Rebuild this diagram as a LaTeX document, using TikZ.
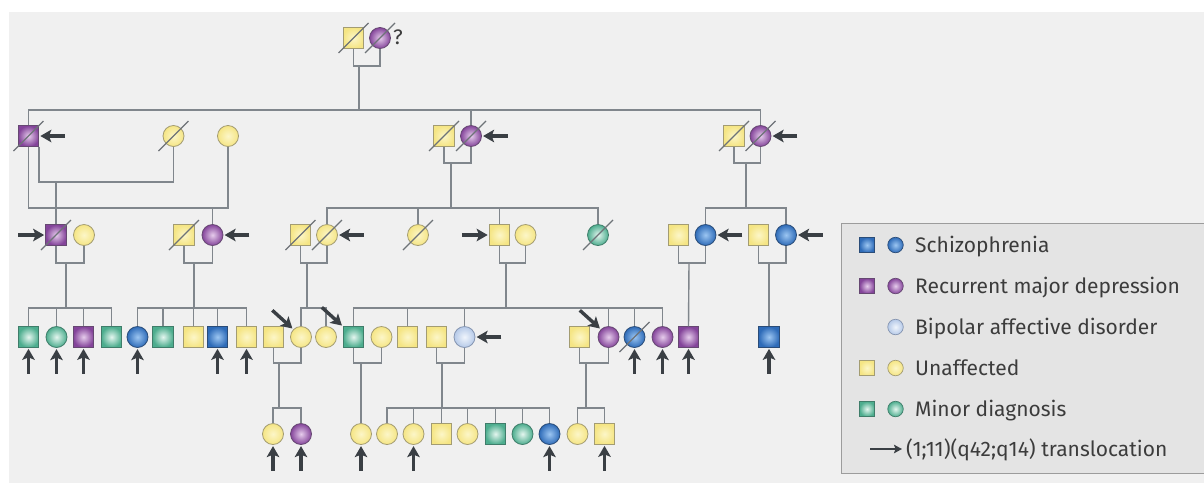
\documentclass[tikz,border=0pt]{standalone}
\usepackage{fontspec}
\setmainfont{Fira Sans}
\usetikzlibrary{arrows.meta}
\definecolor{bgc}{HTML}{F0F0F0}
\definecolor{legc}{HTML}{E4E4E4}
\definecolor{legd}{HTML}{9C9C9C}
\definecolor{linec}{HTML}{80868C}
\definecolor{arrc}{HTML}{3A3F44}
\definecolor{slashc}{HTML}{6E7378}
\definecolor{txtc}{HTML}{3C3C3C}
\definecolor{yelin}{HTML}{FCF6C8}
\definecolor{yelout}{HTML}{F5E584}
\definecolor{yeld}{HTML}{A39C72}
\definecolor{purin}{HTML}{E6CCEC}
\definecolor{purout}{HTML}{84449A}
\definecolor{purd}{HTML}{664872}
\definecolor{bluin}{HTML}{9CC6F2}
\definecolor{bluout}{HTML}{2E6BB8}
\definecolor{blud}{HTML}{2A4C78}
\definecolor{grnin}{HTML}{E4F6EF}
\definecolor{grnout}{HTML}{4DAD8E}
\definecolor{grnd}{HTML}{3F7D6A}
\definecolor{lblin}{HTML}{F0F5FC}
\definecolor{lblout}{HTML}{B5C9E8}
\definecolor{lbld}{HTML}{8494B0}
\begin{document}
\begin{tikzpicture}[x=1pt,y=-1pt,
  sq/.style={rectangle,minimum size=20.5pt,inner sep=0pt,line width=0.8pt},
  ci/.style={circle,minimum size=21pt,inner sep=0pt,line width=0.8pt},
  lsq/.style={rectangle,minimum size=15pt,inner sep=0pt,line width=0.7pt},
  lci/.style={circle,minimum size=15.5pt,inner sep=0pt,line width=0.7pt},
  yel/.style={inner color=yelin,outer color=yelout,draw=yeld},
  pur/.style={inner color=purin,outer color=purout,draw=purd},
  blu/.style={inner color=bluin,outer color=bluout,draw=blud},
  grn/.style={inner color=grnin,outer color=grnout,draw=grnd},
  lbl/.style={inner color=lblin,outer color=lblout,draw=lbld},
  ln/.style={draw=linec,line width=1.4pt},
  arr/.style={draw=arrc,line width=3.4pt,-{Stealth[length=11pt,width=12.5pt,inset=2.5pt]},shorten >=1.2pt},
  slash/.style={draw=slashc,line width=1.1pt},
  legtxt/.style={anchor=base west,inner sep=0pt,text=txtc,font=\fontsize{21}{25}\selectfont}
]
\useasboundingbox (0,0) rectangle (1204,483);
\fill[white] (0,0) rectangle (1204,483);
\fill[bgc] (9,12) rectangle (1204,483);

% ---------- Generation I
\node[sq,yel] (g1m) at (353.5,38) {};
\node[ci,pur] (g1f) at (380,38) {};
\node[anchor=west,inner sep=0pt,text=txtc,font=\fontsize{21}{25}\selectfont] (qm) at (393,37) {?};

% ---------- Generation II
\node[sq,pur] (g2a) at (28.5,136) {};
\node[ci,yel] (g2w1) at (173.5,136) {};
\node[ci,yel] (g2w2) at (228,136) {};
\node[sq,yel] (g2mm) at (444,136) {};
\node[ci,pur] (g2mf) at (471,136) {};
\node[sq,yel] (g2rm) at (734,136) {};
\node[ci,pur] (g2rf) at (760.5,136) {};

% ---------- Generation III
\node[sq,pur] (a3m) at (56,235) {};
\node[ci,yel] (a3f) at (84,235) {};
\node[sq,yel] (b3m) at (184,235) {};
\node[ci,pur] (b3f) at (212.5,235) {};
\node[sq,yel] (c3m) at (300.5,235) {};
\node[ci,yel] (c3f) at (327,235) {};
\node[ci,yel] (d3) at (418,235) {};
\node[sq,yel] (e3m) at (499.5,235) {};
\node[ci,yel] (e3f) at (525.5,235) {};
\node[ci,grn] (f3) at (598,235) {};
\node[sq,yel] (g3m) at (678.5,235) {};
\node[ci,blu] (g3f) at (705.5,235) {};
\node[sq,yel] (h3m) at (758.5,235) {};
\node[ci,blu] (h3f) at (786,235) {};

% ---------- Generation IV
\node[sq,grn] (a4) at (28.5,337) {};
\node[ci,grn] (b4) at (56.5,337) {};
\node[sq,pur] (c4) at (83.5,337) {};
\node[sq,grn] (d4) at (111.5,337) {};
\node[ci,blu] (e4) at (137.5,337) {};
\node[sq,grn] (f4) at (163,337) {};
\node[sq,yel] (g4) at (193.5,337) {};
\node[sq,blu] (h4) at (217.5,337) {};
\node[sq,yel] (i4) at (246.5,337) {};
\node[sq,yel] (j4) at (273.5,337) {};
\node[ci,yel] (k4) at (301,337) {};
\node[ci,yel] (l4) at (326,337) {};
\node[sq,grn] (m4) at (353.5,337) {};
\node[ci,yel] (n4) at (381.5,337) {};
\node[sq,yel] (o4) at (407.5,337) {};
\node[sq,yel] (p4) at (436.5,337) {};
\node[ci,lbl] (q4) at (464.5,337) {};
\node[sq,yel] (r4) at (579.5,337) {};
\node[ci,pur] (s4) at (608.5,337) {};
\node[ci,blu] (t4) at (634.5,337) {};
\node[ci,pur] (u4) at (662.5,337) {};
\node[sq,pur] (v4) at (688.5,337) {};
\node[sq,blu] (w4) at (769,337) {};

% ---------- Generation V
\node[ci,yel] (a5) at (273,434) {};
\node[ci,pur] (b5) at (301,434) {};
\node[ci,yel] (c5) at (361,434) {};
\node[ci,yel] (d5) at (387,434) {};
\node[ci,yel] (e5) at (413.5,434) {};
\node[sq,yel] (f5) at (441.5,434) {};
\node[ci,yel] (g5) at (467.5,434) {};
\node[sq,grn] (h5) at (495.5,434) {};
\node[ci,grn] (i5) at (522.5,434) {};
\node[ci,blu] (j5) at (549.5,434) {};
\node[ci,yel] (k5) at (577.5,434) {};
\node[sq,yel] (l5) at (604.5,434) {};

% ---------- levels and descent points
\coordinate (S2) at (0,110);
\coordinate (M2a) at (0,182);
\coordinate (M2b) at (0,208);
\coordinate (S3) at (0,208);
\coordinate (M3) at (0,263);
\coordinate (S4) at (0,308);
\coordinate (M4) at (0,363);
\coordinate (S5) at (0,408);
\coordinate (d1) at (359,66);
\coordinate (d2m) at (451,163);
\coordinate (d2r) at (746,163);
\coordinate (d3a) at (66,263);
\coordinate (d3b) at (194,263);
\coordinate (d3c) at (307,263);
\coordinate (d3e) at (506,263);
\coordinate (d3g) at (689,263);
\coordinate (d3h) at (769,263);
\coordinate (d4j) at (279,363);
\coordinate (d4m) at (361,363);
\coordinate (d4p) at (442,363);
\coordinate (d4r) at (586,363);

% ---------- Gen I -> II
\draw[ln] (g1m.south) -- (g1m.south |- d1) -| (g1f.south);
\draw[ln] (d1) -- (d1 |- S2);
\draw[ln] (g2a.north) -- (g2a.north |- S2) -- (g2rf.north |- S2) -- (g2rf.north);
\draw[ln] (g2mf.north) -- (g2mf.north |- S2);

% ---------- Gen II marriages and descents
\draw[ln] (g2a.south east) -- (g2a.south east |- M2a) -| (g2w1.south);
\draw[ln] (g2a.south) -- (g2a.south |- M2b) -| (g2w2.south);
\draw[ln] (a3m.north) -- (a3m.north |- M2a);
\draw[ln] (b3f.north) -- (b3f.north |- M2b);
\draw[ln] (g2mm.south) -- (g2mm.south |- d2m) -| (g2mf.south);
\draw[ln] (d2m) -- (d2m |- S3);
\draw[ln] (c3f.north) -- (c3f.north |- S3) -- (f3.north |- S3) -- (f3.north);
\draw[ln] (d3.north) -- (d3.north |- S3);
\draw[ln] (e3m.north) -- (e3m.north |- S3);
\draw[ln] (g2rm.south) -- (g2rm.south |- d2r) -| (g2rf.south);
\draw[ln] (d2r) -- (d2r |- S3);
\draw[ln] (g3f.north) -- (g3f.north |- S3) -- (h3f.north |- S3) -- (h3f.north);

% ---------- Gen III marriages and descents
\foreach \m/\f in {a3m/a3f,b3m/b3f,c3m/c3f,e3m/e3f,g3m/g3f,h3m/h3f}
  \draw[ln] (\m.south) -- (\m.south |- M3) -| (\f.south);
\foreach \d in {d3a,d3b,d3c,d3e}
  \draw[ln] (\d) -- (\d |- S4);
\draw[ln] (a4.north) -- (a4.north |- S4) -- (d4.north |- S4) -- (d4.north);
\foreach \c in {b4,c4} \draw[ln] (\c.north) -- (\c.north |- S4);
\draw[ln] (e4.north) -- (e4.north |- S4) -- (i4.north |- S4) -- (i4.north);
\foreach \c in {f4,g4,h4} \draw[ln] (\c.north) -- (\c.north |- S4);
\draw[ln] (k4.north) -- (k4.north |- S4) -- (l4.north |- S4) -- (l4.north);
\draw[ln] (m4.north) -- (m4.north |- S4) -- (u4.north |- S4) -- (u4.north);
\foreach \c in {o4,q4,s4,t4} \draw[ln] (\c.north) -- (\c.north |- S4);
\draw[ln] (d3g) -- (v4.north);
\draw[ln] (d3h) -- (w4.north);

% ---------- Gen IV marriages and descents
\foreach \m/\f in {j4/k4,m4/n4,p4/q4,r4/s4}
  \draw[ln] (\m.south) -- (\m.south |- M4) -| (\f.south);
\foreach \d in {d4j,d4p,d4r}
  \draw[ln] (\d) -- (\d |- S5);
\draw[ln] (d4m) -- (c5.north);
\draw[ln] (a5.north) -- (a5.north |- S5) -- (b5.north |- S5) -- (b5.north);
\draw[ln] (d5.north) -- (d5.north |- S5) -- (j5.north |- S5) -- (j5.north);
\foreach \c in {e5,f5,g5,h5,i5} \draw[ln] (\c.north) -- (\c.north |- S5);
\draw[ln] (k5.north) -- (k5.north |- S5) -- (l5.north |- S5) -- (l5.north);

% ---------- deceased slashes
\foreach \n in {g1m,g1f,g2a,g2w1,g2mm,g2mf,g2rm,g2rf,a3m,b3m,c3m,c3f,d3,f3,t4}
  \draw[slash] ([shift={(-15,15)}]\n.center) -- ([shift={(15,-15)}]\n.center);

% ---------- translocation arrows
\foreach \n in {g2a,g2mf,g2rf,b3f,c3f,g3f,h3f,q4}
  \draw[arr] ([shift={(26,0)}]\n.east) -- (\n.east);
\foreach \n in {a3m,e3m}
  \draw[arr] ([shift={(-27,0)}]\n.west) -- (\n.west);
\foreach \n in {a4,b4,c4,e4,h4,i4,t4,u4,v4,w4,a5,b5,c5,e5,j5,l5}
  \draw[arr] ([shift={(0,26)}]\n.south) -- (\n.south);
\foreach \n in {k4,m4,s4}
  \draw[arr] ([shift={(-21,-19)}]\n.north west) -- (\n.north west);

% ---------- legend
\draw[fill=legc,draw=legd,line width=1pt] (841,223) rectangle (1215,473);
\node[lsq,blu] (k1s) at (867,245) {};
\node[lci,blu] (k1c) at (895.5,245) {};
\node[legtxt] (k1t) at (915,252) {Schizophrenia};
\node[lsq,pur] (k2s) at (867,286) {};
\node[lci,pur] (k2c) at (895.5,286) {};
\node[legtxt] (k2t) at (915,293) {Recurrent major depression};
\node[lci,lbl] (k3c) at (895.5,327) {};
\node[legtxt] (k3t) at (915,334) {Bipolar affective disorder};
\node[lsq,yel] (k4s) at (867,368) {};
\node[lci,yel] (k4c) at (895.5,368) {};
\node[legtxt] (k4t) at (915,375) {Unaffected};
\node[lsq,grn] (k5s) at (867,409) {};
\node[lci,grn] (k5c) at (895.5,409) {};
\node[legtxt] (k5t) at (915,416) {Minor diagnosis};
\node[legtxt] (k6t) at (906,456) {(1;11)(q42;q14) translocation};
\coordinate (k6a) at (870,449);
\draw[draw=arrc,line width=2pt,-{Stealth[length=8pt,width=8.5pt,inset=1.5pt]}] (k6a) -- ([shift={(-4,0)}]k6t.west |- k6a);
\end{tikzpicture}
\end{document}
